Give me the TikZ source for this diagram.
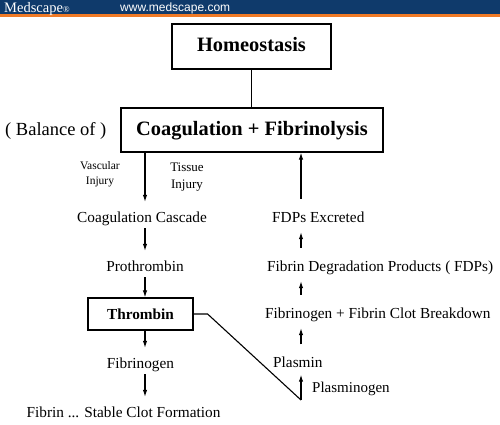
\documentclass[tikz,border=0pt]{standalone}
\usepackage{fontspec}
\setmainfont{Liberation Serif}
\newfontfamily\webfont{Liberation Sans}
\usetikzlibrary{arrows.meta}
\definecolor{mednavy}{HTML}{0F3A6B}
\definecolor{medorange}{HTML}{F07A26}

\begin{document}
\begin{tikzpicture}[x=1pt, y=-1pt,
    box/.style={draw, line width=1.2pt, inner sep=0pt, font=\fontsize{20.4}{24}\selectfont\bfseries, text height=14pt, text depth=4pt},
    txt/.style={inner xsep=0pt, inner ysep=3pt, font=\fontsize{15.3}{18}\selectfont, text height=10pt, text depth=3pt},
    flow/.style={-{Latex[length=7pt,width=4.5pt]}, line width=1.1pt},
    down/.style={flow, shorten >=7pt},
    up/.style={flow, shorten <=10pt, shorten >=4pt}]

\useasboundingbox (0,0) rectangle (500,424);

% 页眉
\fill[mednavy] (0,0) rectangle (500,14);
\fill[medorange] (0,14) rectangle (500,17);
\node[anchor=base west, inner sep=0pt, text=white, font=\fontsize{14.5}{15}\selectfont] (logo) at (4,12) {Medscape{\fontsize{9}{10}\selectfont ®}};
\node[anchor=base west, inner sep=0pt, text=white, font=\webfont\fontsize{12}{14}\selectfont] (web) at (120,11.5) {www.medscape.com};

% 两个大框
\node[box, minimum width=159pt, minimum height=45pt] (home) at (251.5,46.5) {Homeostasis};
\node[box, minimum width=262pt, minimum height=44pt] (coag) at (252,130) {Coagulation + Fibrinolysis};
\draw[line width=1.1pt] (home.south) -- (home.south |- coag.north);
\node[anchor=west, inner sep=0pt, font=\fontsize{18.5}{20}\selectfont] (bal) at (5,131) {( Balance of )};

% 凝血 (左列)
\def\lx{145}
\coordinate (lc) at (\lx,0);
\node[align=center, font=\fontsize{11.5}{15}\selectfont] (vas) at (100,174.5) {Vascular\\Injury};
\node[align=center, font=\fontsize{13}{17}\selectfont] (tis) at (187,177.5) {Tissue\\Injury};
\node[txt] (casc) at (142,218.5) {Coagulation Cascade};
\node[txt] (pro) at (145,267.5) {Prothrombin};
\node[draw, line width=1.2pt, minimum width=105pt, minimum height=32pt, font=\fontsize{15.3}{18}\selectfont\bfseries] (thr) at (140.5,314) {Thrombin};
\node[txt] (fbg) at (140.5,364.5) {Fibrinogen};
\node[txt] (clot) at (123.5,413.5) {Fibrin ... Stable Clot Formation};

\foreach \a/\b in {coag/casc, casc/pro, thr/fbg, fbg/clot} {
    \draw[down] (\a.south -| lc) -- (\b.north -| lc);
}
\draw[flow] (pro.south -| lc) -- (thr.north -| lc);

% 纤溶 (右列)
\def\rx{301}
\coordinate (rc) at (\rx,0);
\node[txt, anchor=west] (excr) at (272,218.5) {FDPs Excreted};
\node[txt, anchor=west] (fdp) at (267,267.5) {Fibrin Degradation Products ( FDPs)};
\node[txt, anchor=west] (brk) at (265,314.5) {Fibrinogen + Fibrin Clot Breakdown};
\node[txt, anchor=west] (plm) at (273,364) {Plasmin};
\node[txt, anchor=west, font=\fontsize{15}{16}\selectfont] (plg) at (312,389) {Plasminogen};
\coordinate (plgfoot) at (\rx,400);

\draw[flow, shorten >=1pt] (plgfoot) -- (plm.south -| rc);
\foreach \a/\b in {plm/brk, brk/fdp, fdp/excr} {
    \draw[up] (\a.north -| rc) -- (\b.south -| rc);
}
\draw[flow, shorten <=10pt] (excr.north -| rc) -- (coag.south -| rc);

% 凝血酶 -> 纤溶酶原
\draw[line width=1.1pt] (thr.east) -- ++(14,0) -- (plgfoot);

\end{tikzpicture}
\end{document}
